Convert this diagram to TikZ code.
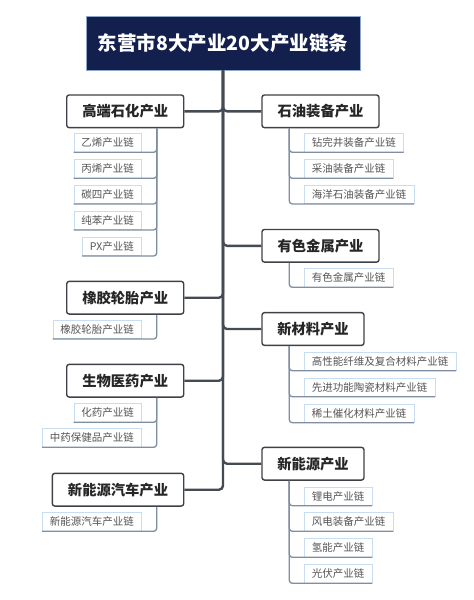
\documentclass[tikz,border=0pt]{standalone}
\usepackage{fontspec}
\setmainfont{Noto Sans CJK SC}
\usetikzlibrary{positioning}
\definecolor{navy}{HTML}{13204D}
\definecolor{navyedge}{HTML}{8EA6C8}
\definecolor{trunkc}{HTML}{454B53}
\definecolor{boxedge}{HTML}{3E4146}
\definecolor{subedge}{HTML}{C9DDF0}
\definecolor{subline}{HTML}{7F8EA0}
\definecolor{subtext}{HTML}{555555}
\tikzset{
  titlebox/.style={draw=navyedge, line width=1pt, fill=navy, text=white, font=\fontsize{19.5}{22}\selectfont\bfseries, minimum width=274pt, minimum height=54pt, inner sep=0pt},
  indbox/.style={draw=boxedge, line width=1.4pt, fill=white, rounded corners=2.5pt, text=black!85, font=\fontsize{14.3}{16}\selectfont\bfseries, minimum height=32.7pt, inner sep=0pt},
  chain/.style={draw=subedge, line width=0.7pt, fill=white, text=subtext, font=\fontsize{10.5}{12}\selectfont, minimum height=18.5pt, inner xsep=7.5pt, inner ysep=0pt},
  trunk/.style={draw=trunkc, line width=2.4pt, rounded corners=4pt},
  bracket/.style={draw=subline, line width=1.3pt, rounded corners=3pt}
}
\begin{document}
\begin{tikzpicture}[x=1pt,y=-1pt]
\useasboundingbox (0,0) rectangle (474,600);
% title
\node[titlebox] (T) at (223,43) {东营市8大产业20大产业链条};
% industries
\node[indbox, minimum width=117pt] (A) at (125.2,111.3) {高端石化产业};
\node[indbox, minimum width=117pt] (B) at (320.5,111.3) {石油装备产业};
\node[indbox, minimum width=117pt] (C) at (320.5,245.8) {有色金属产业};
\node[indbox, minimum width=117pt] (D) at (125.2,297.7) {橡胶轮胎产业};
\node[indbox, minimum width=102pt] (E) at (313,329) {新材料产业};
\node[indbox, minimum width=117pt] (F) at (125.2,380.7) {生物医药产业};
\node[indbox, minimum width=102pt] (G) at (313,463.7) {新能源产业};
\node[indbox, minimum width=131.4pt] (H) at (118,489.7) {新能源汽车产业};
% trunk and branches
\draw[trunk] (T.south) |- (H.east);
\foreach \n in {A,D,F} \draw[trunk] (T.south) |- (\n.east);
\foreach \n in {B,C,E,G} \draw[trunk] (T.south) |- (\n.west);
% chains left
\node[chain, anchor=south east] (a1) at (141.7,152.3) {乙烯产业链};
\node[chain, anchor=south east] (a2) at (141.7,178.3) {丙烯产业链};
\node[chain, anchor=south east] (a3) at (141.7,204) {碳四产业链};
\node[chain, anchor=south east] (a4) at (141.7,230) {纯苯产业链};
\node[chain, anchor=south east] (a5) at (141.7,256) {PX产业链};
\node[chain, anchor=south east] (d1) at (141.7,339) {橡胶轮胎产业链};
\node[chain, anchor=south east] (f1) at (141.7,422.3) {化药产业链};
\node[chain, anchor=south east] (f2) at (141.7,447.3) {中药保健品产业链};
\node[chain, anchor=south east] (h1) at (141.7,531.3) {新能源汽车产业链};
% chains right
\node[chain, anchor=south west] (b1) at (304,152.3) {钻完井装备产业链};
\node[chain, anchor=south west] (b2) at (304,178.3) {采油装备产业链};
\node[chain, anchor=south west] (b3) at (304,204) {海洋石油装备产业链};
\node[chain, anchor=south west] (c1) at (304,287.3) {有色金属产业链};
\node[chain, anchor=south west] (e1) at (304,370.7) {高性能纤维及复合材料产业链};
\node[chain, anchor=south west] (e2) at (304,396.7) {先进功能陶瓷材料产业链};
\node[chain, anchor=south west] (e3) at (304,422.7) {稀土催化材料产业链};
\node[chain, anchor=south west] (g1) at (304,505.7) {锂电产业链};
\node[chain, anchor=south west] (g2) at (304,531.3) {风电装备产业链};
\node[chain, anchor=south west] (g3) at (304,557.3) {氢能产业链};
\node[chain, anchor=south west] (g4) at (304,583.3) {光伏产业链};
% brackets
\foreach \p/\c in {A/a1,A/a2,A/a3,A/a4,A/a5,D/d1,F/f1,F/f2,H/h1}
  \draw[bracket] ([xshift=-27.7pt]\p.south east) |- (\c.south west);
\foreach \p/\c in {B/b1,B/b2,B/b3,C/c1,E/e1,E/e2,E/e3,G/g1,G/g2,G/g3,G/g4}
  \draw[bracket] ([xshift=28pt]\p.south west) |- (\c.south east);
\end{tikzpicture}
\end{document}
